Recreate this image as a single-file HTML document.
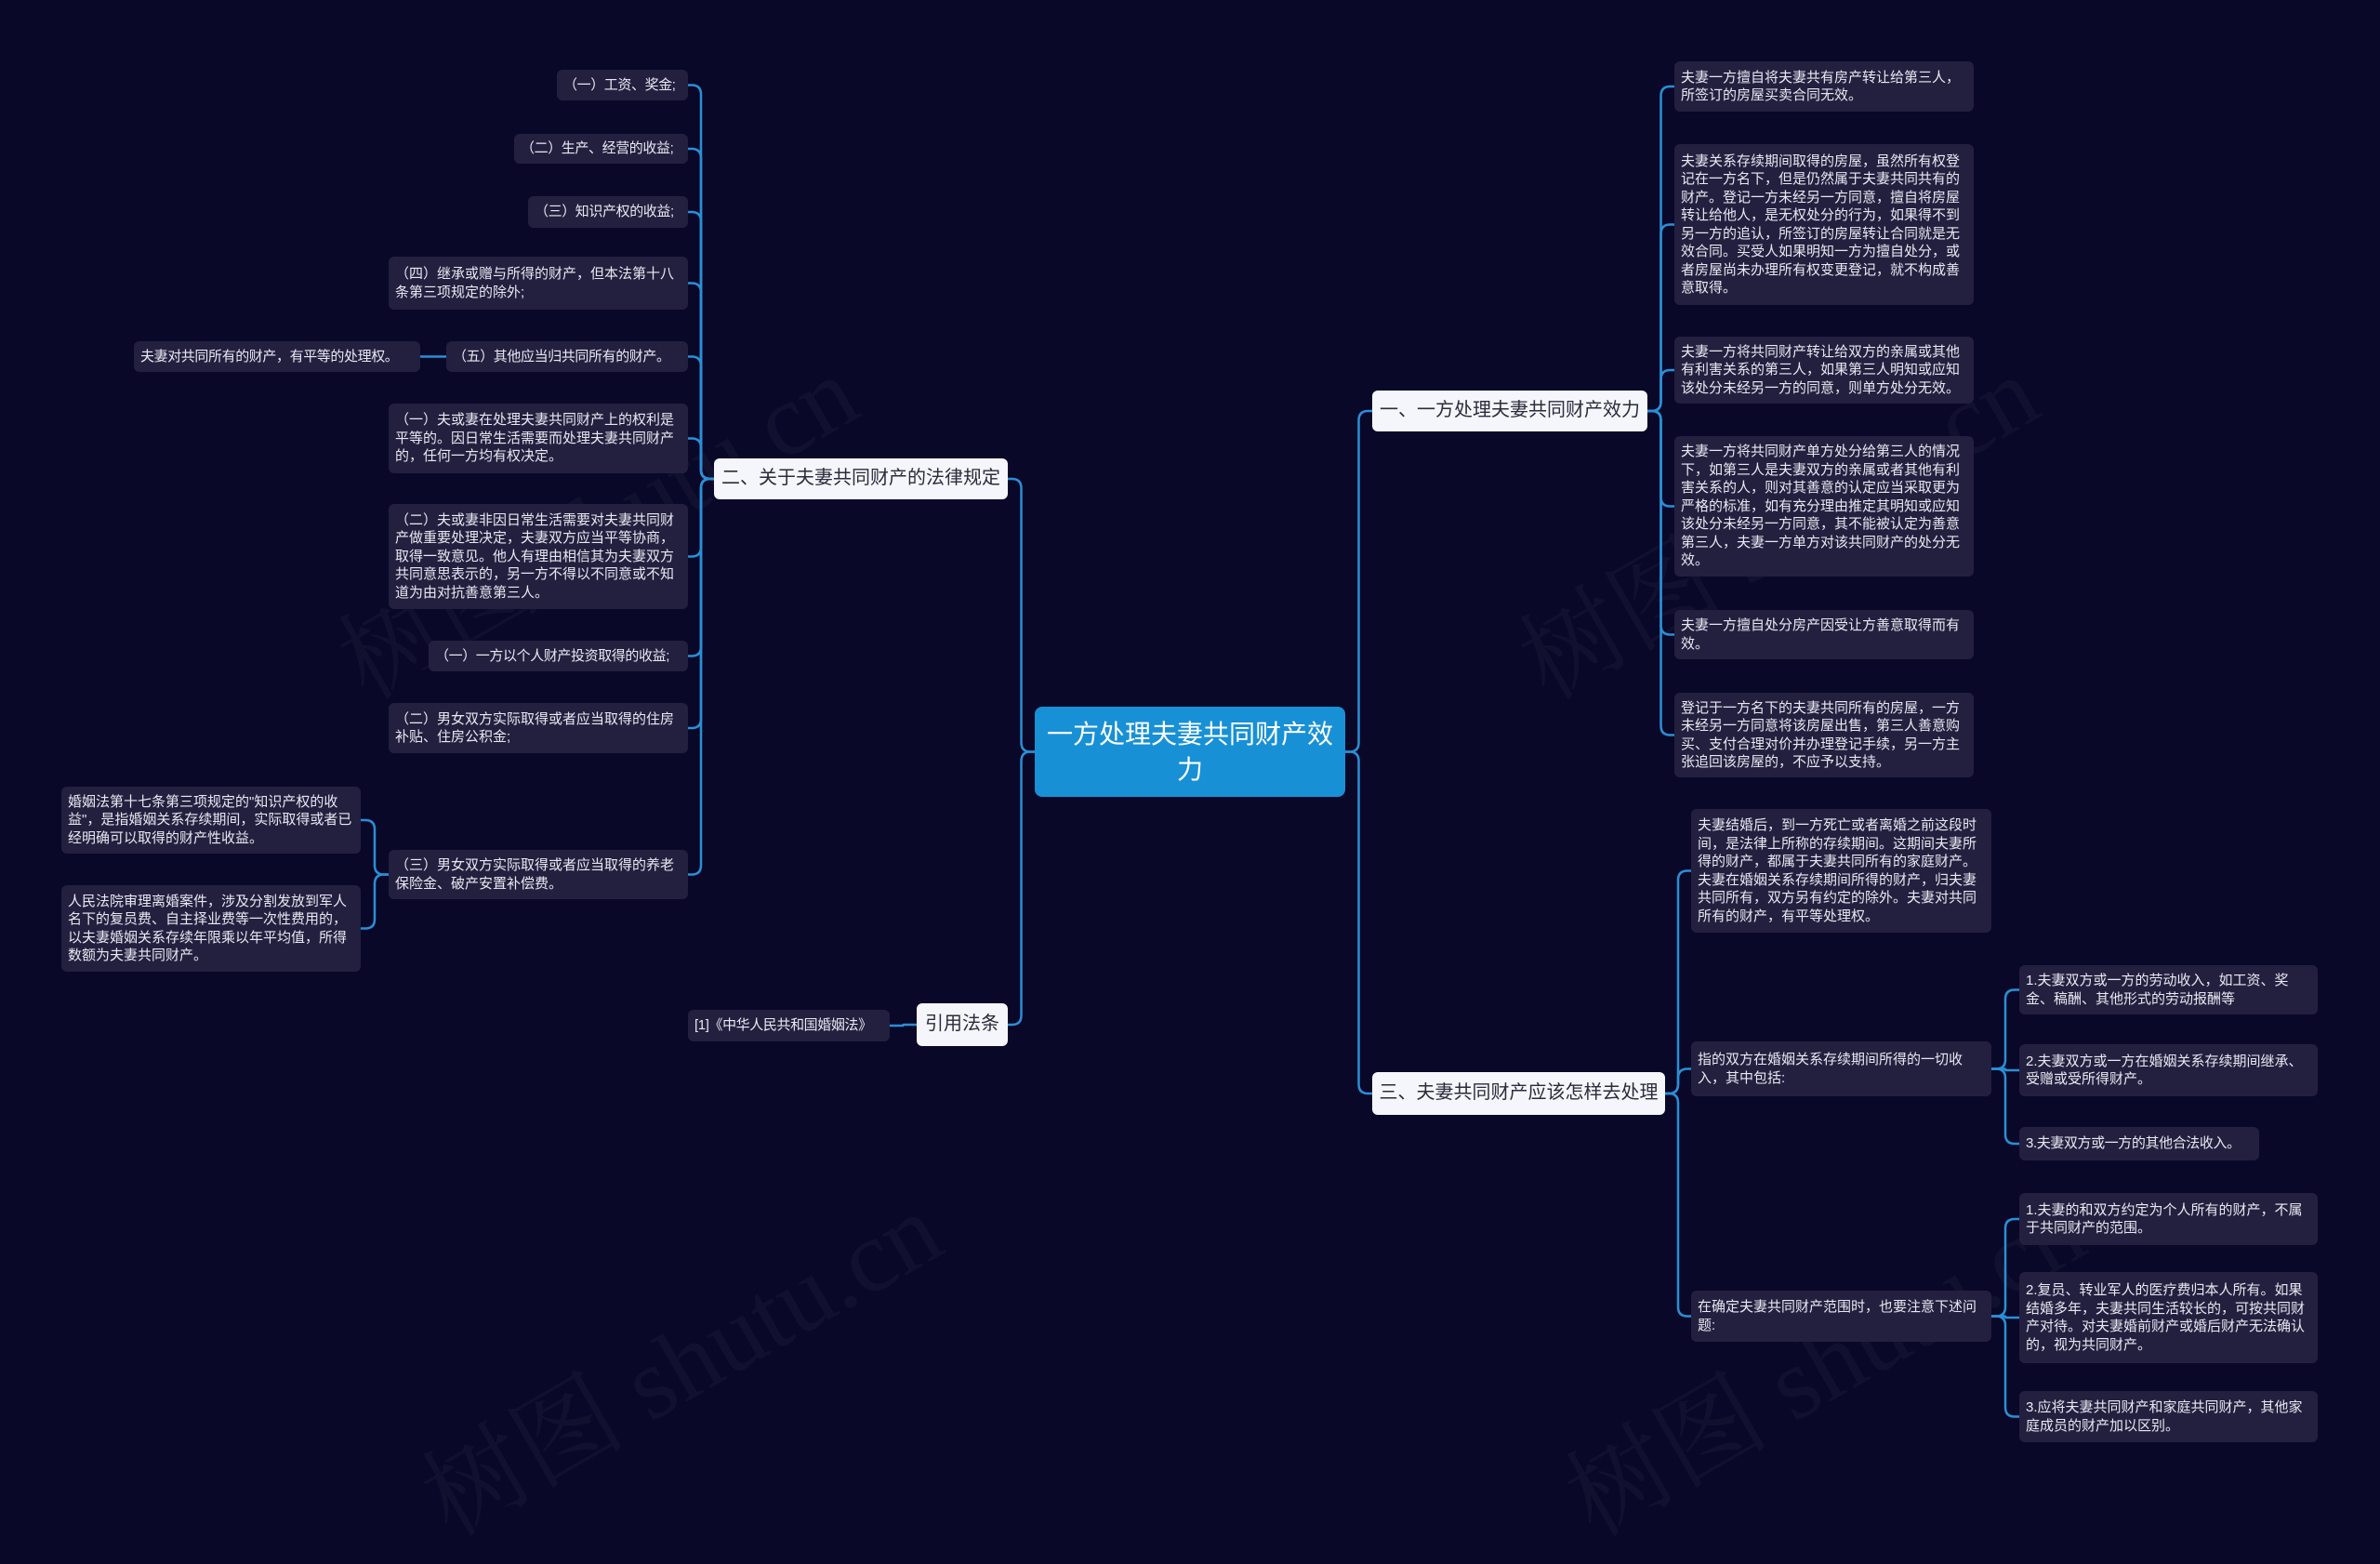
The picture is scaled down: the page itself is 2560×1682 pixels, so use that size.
<!DOCTYPE html>
<html><head><meta charset="utf-8">
<style>
html,body{margin:0;padding:0;}
body{width:2560px;height:1616px;background:#0a0828;position:relative;overflow:hidden;font-family:"Liberation Sans","Noto Sans CJK SC",sans-serif;}
.n{position:absolute;box-sizing:border-box;background:#23203f;color:#e8e8f2;font-size:15px;line-height:19.5px;padding:0 6px 0 7px;border-radius:6px;display:flex;align-items:center;letter-spacing:0;}
.n span{display:block;width:100%;}
.l1{background:#f4f6fb;color:#2b2b3a;font-size:20px;border-radius:6px;justify-content:center;text-align:center;padding:0 4px;letter-spacing:0;white-space:nowrap;}
.c{background:#1890d5;color:#fff;font-size:28px;line-height:38px;border-radius:8px;justify-content:center;text-align:center;padding:0 6px;letter-spacing:0;white-space:normal;}
.nw{white-space:nowrap;letter-spacing:-0.4px;}
svg{position:absolute;left:0;top:0;}
.wm{position:absolute;color:rgba(255,255,255,0.035);font-size:110px;font-family:"Liberation Serif","Noto Serif CJK SC",serif;transform:rotate(-30deg);white-space:nowrap;}
</style></head><body>
<div class="wm" style="left:330px;top:480px;">树图 shutu.cn</div>
<div class="wm" style="left:420px;top:1380px;">树图 shutu.cn</div>
<div class="wm" style="left:1600px;top:480px;">树图 shutu.cn</div>
<div class="wm" style="left:1650px;top:1380px;">树图 shutu.cn</div>
<svg id="s" width="2560" height="1616"></svg>
<div id="root"></div>
<script>
var N={
c:[1113,760,1447,857,'一方处理夫妻共同财产效力','c'],
L2:[768,493,1084,537,'二、关于夫妻共同财产的法律规定','l1'],
Ly:[986,1079,1084,1125,'引用法条','l1'],
R1:[1476,420,1772,464,'一、一方处理夫妻共同财产效力','l1'],
R3:[1476,1153,1791,1199,'三、夫妻共同财产应该怎样去处理','l1'],
a1:[599,75,740,108,'（一）工资、奖金;','nw'],
a2:[553,144,740,176,'（二）生产、经营的收益;','nw'],
a3:[568,211,740,245,'（三）知识产权的收益;','nw'],
a4:[418,276,740,333,'（四）继承或赠与所得的财产，但本法第十八条第三项规定的除外;'],
a5:[480,367,740,400,'（五）其他应当归共同所有的财产。','nw'],
a5x:[144,367,452,400,'夫妻对共同所有的财产，有平等的处理权。','nw'],
a6:[418,434,740,509,'（一）夫或妻在处理夫妻共同财产上的权利是平等的。因日常生活需要而处理夫妻共同财产的，任何一方均有权决定。'],
a7:[418,542,740,655,'（二）夫或妻非因日常生活需要对夫妻共同财产做重要处理决定，夫妻双方应当平等协商，取得一致意见。他人有理由相信其为夫妻双方共同意思表示的，另一方不得以不同意或不知道为由对抗善意第三人。'],
a8:[461,689,740,722,'（一）一方以个人财产投资取得的收益;','nw'],
a9:[418,756,740,810,'（二）男女双方实际取得或者应当取得的住房补贴、住房公积金;'],
a10:[418,914,740,967,'（三）男女双方实际取得或者应当取得的养老保险金、破产安置补偿费。'],
b1:[66,846,388,918,'婚姻法第十七条第三项规定的"知识产权的收益"，是指婚姻关系存续期间，实际取得或者已经明确可以取得的财产性收益。'],
b2:[66,952,388,1045,'人民法院审理离婚案件，涉及分割发放到军人名下的复员费、自主择业费等一次性费用的，以夫妻婚姻关系存续年限乘以年平均值，所得数额为夫妻共同财产。'],
y1:[740,1086,957,1120,'[1]《中华人民共和国婚姻法》','nw'],
r1:[1801,66,2123,120,'夫妻一方擅自将夫妻共有房产转让给第三人，所签订的房屋买卖合同无效。'],
r2:[1801,155,2123,328,'夫妻关系存续期间取得的房屋，虽然所有权登记在一方名下，但是仍然属于夫妻共同共有的财产。登记一方未经另一方同意，擅自将房屋转让给他人，是无权处分的行为，如果得不到另一方的追认，所签订的房屋转让合同就是无效合同。买受人如果明知一方为擅自处分，或者房屋尚未办理所有权变更登记，就不构成善意取得。'],
r3:[1801,362,2123,434,'夫妻一方将共同财产转让给双方的亲属或其他有利害关系的第三人，如果第三人明知或应知该处分未经另一方的同意，则单方处分无效。'],
r4:[1801,469,2123,620,'夫妻一方将共同财产单方处分给第三人的情况下，如第三人是夫妻双方的亲属或者其他有利害关系的人，则对其善意的认定应当采取更为严格的标准，如有充分理由推定其明知或应知该处分未经另一方同意，其不能被认定为善意第三人，夫妻一方单方对该共同财产的处分无效。'],
r5:[1801,656,2123,709,'夫妻一方擅自处分房产因受让方善意取得而有效。'],
r6:[1801,745,2123,836,'登记于一方名下的夫妻共同所有的房屋，一方未经另一方同意将该房屋出售，第三人善意购买、支付合理对价并办理登记手续，另一方主张追回该房屋的，不应予以支持。'],
g:[1819,870,2142,1003,'夫妻结婚后，到一方死亡或者离婚之前这段时间，是法律上所称的存续期间。这期间夫妻所得的财产，都属于夫妻共同所有的家庭财产。夫妻在婚姻关系存续期间所得的财产，归夫妻共同所有，双方另有约定的除外。夫妻对共同所有的财产，有平等处理权。'],
h:[1819,1120,2142,1179,'指的双方在婚姻关系存续期间所得的一切收入，其中包括:'],
i:[1819,1388,2142,1443,'在确定夫妻共同财产范围时，也要注意下述问题:'],
h1:[2172,1038,2493,1091,'1.夫妻双方或一方的劳动收入，如工资、奖金、稿酬、其他形式的劳动报酬等'],
h2:[2172,1123,2493,1179,'2.夫妻双方或一方在婚姻关系存续期间继承、受赠或受所得财产。'],
h3:[2172,1212,2430,1248,'3.夫妻双方或一方的其他合法收入。','nw'],
i1:[2172,1283,2493,1339,'1.夫妻的和双方约定为个人所有的财产，不属于共同财产的范围。'],
i2:[2172,1368,2493,1466,'2.复员、转业军人的医疗费归本人所有。如果结婚多年，夫妻共同生活较长的，可按共同财产对待。对夫妻婚前财产或婚后财产无法确认的，视为共同财产。'],
i3:[2172,1496,2493,1551,'3.应将夫妻共同财产和家庭共同财产，其他家庭成员的财产加以区别。']
};
var root=document.getElementById('root'),h='';
for(var k in N){var v=N[k];h+='<div class="n '+(v[5]||'')+'" style="left:'+v[0]+'px;top:'+v[1]+'px;width:'+(v[2]-v[0])+'px;height:'+(v[3]-v[1])+'px"><span>'+v[4]+'</span></div>';}
root.innerHTML=h;
var E=[['c','L2',-1],['c','Ly',-1],['c','R1',1],['c','R3',1],
['L2','a1',-1],['L2','a2',-1],['L2','a3',-1],['L2','a4',-1],['L2','a5',-1],['L2','a6',-1],['L2','a7',-1],['L2','a8',-1],['L2','a9',-1],['L2','a10',-1],
['a5','a5x',-1],['a10','b1',-1],['a10','b2',-1],['Ly','y1',-1],
['R1','r1',1],['R1','r2',1],['R1','r3',1],['R1','r4',1],['R1','r5',1],['R1','r6',1],
['R3','g',1],['R3','h',1],['R3','i',1],['h','h1',1],['h','h2',1],['h','h3',1],['i','i1',1],['i','i2',1],['i','i3',1]];
var p='';
E.forEach(function(e){var a=N[e[0]],b=N[e[1]],d=e[2];
var x1=d>0?a[2]:a[0],y1=(a[1]+a[3])/2,x2=d>0?b[0]:b[2],y2=(b[1]+b[3])/2,tx=(x1+x2)/2;
var dy=y2-y1,r=Math.min(10,Math.abs(dy)/2),s=dy>0?1:-1;
if(Math.abs(dy)<1){p+='<path d="M'+x1+' '+y1+'H'+x2+'"/>';return;}
p+='<path d="M'+x1+' '+y1+'H'+(tx-d*r)+'Q'+tx+' '+y1+' '+tx+' '+(y1+s*r)+'V'+(y2-s*r)+'Q'+tx+' '+y2+' '+(tx+d*r)+' '+y2+'H'+x2+'"/>';});
document.getElementById('s').innerHTML='<g fill="none" stroke="#2a8fd6" stroke-width="2.5">'+p+'</g>';
</script>
</body></html>
